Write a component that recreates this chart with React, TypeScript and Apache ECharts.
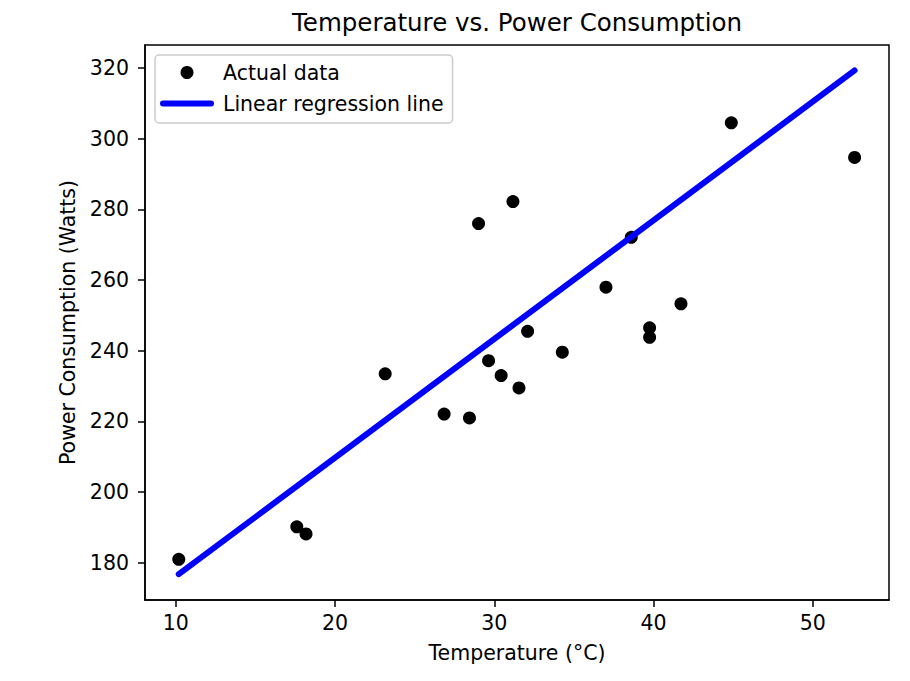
import React, { useEffect, useRef } from 'react';
import * as echarts from 'echarts';

// Scatter data (temperature °C, power W)
const temperatures = [
  10.19, 17.6, 18.18, 23.15, 26.85, 28.44, 29.01, 29.64, 30.43, 31.17,
  31.55, 32.09, 34.27, 37.01, 38.6, 39.75, 39.75, 41.72, 44.88, 52.62,
];
const powerValues = [
  181.0, 190.2, 188.2, 233.5, 222.1, 221.0, 276.0, 237.2, 233.0, 282.2,
  229.5, 245.5, 239.6, 258.0, 272.1, 246.5, 243.8, 253.3, 304.5, 294.7,
];

// Regression line end points
const regressionX = [10.19, 52.62];
const regressionY = [176.8, 319.3];

// Tick labels
const xTicks = [10, 20, 30, 40, 50];
const yTicks = [180, 200, 220, 240, 260, 280, 300, 320];

const FONT = 'DejaVu Sans';

export default function App() {
  const ref = useRef<HTMLDivElement>(null);

  useEffect(() => {
    const chart = echarts.init(ref.current as HTMLDivElement, null, { renderer: 'svg' });
    chart.setOption({
      animation: false,
      backgroundColor: '#ffffff',
      title: {
        text: 'Temperature vs. Power Consumption',
        left: 517,
        top: 10,
        padding: 0,
        textAlign: 'center',
        textStyle: { fontFamily: FONT, fontSize: 24.5, fontWeight: 'normal', color: '#000' },
      },
      grid: {
        left: 145,
        top: 45,
        width: 744,
        height: 555,
        show: true,
        borderColor: '#000',
        borderWidth: 1.5,
        backgroundColor: 'transparent',
      },
      legend: {
        orient: 'vertical',
        left: 155,
        top: 55,
        padding: [7, 9, 9, 5],
        itemWidth: 48,
        itemHeight: 13,
        itemGap: 10,
        borderColor: '#cccccc',
        borderWidth: 1.5,
        borderRadius: 4,
        backgroundColor: 'rgba(255,255,255,0.8)',
        textStyle: {
          fontFamily: FONT,
          fontSize: 20.5,
          color: '#000',
          lineHeight: 21,
          padding: [0, 0, 0, 7],
        },
        lineStyle: { width: 6 },
        data: [
          { name: 'Actual data', icon: 'circle' },
          { name: 'Linear regression line', itemStyle: { opacity: 0 } },
        ],
      },
      xAxis: {
        type: 'value',
        min: 8.07,
        max: 54.78,
        name: 'Temperature (°C)',
        nameLocation: 'middle',
        nameGap: 42,
        nameTextStyle: { fontFamily: FONT, fontSize: 20.5, color: '#000' },
        splitLine: { show: false },
        axisLine: { show: true, onZero: false, lineStyle: { color: '#000', width: 1.5 } },
        axisTick: { show: true, length: 7, lineStyle: { color: '#000', width: 1.5 }, customValues: xTicks },
        axisLabel: { fontFamily: FONT, fontSize: 20.5, color: '#000', margin: 12, customValues: xTicks },
      },
      yAxis: {
        type: 'value',
        min: 169.5,
        max: 326.5,
        name: 'Power Consumption (Watts)',
        nameLocation: 'middle',
        nameGap: 60,
        nameTextStyle: { fontFamily: FONT, fontSize: 20.5, color: '#000' },
        splitLine: { show: false },
        axisLine: { show: true, onZero: false, lineStyle: { color: '#000', width: 1.5 } },
        axisTick: { show: true, length: 7, lineStyle: { color: '#000', width: 1.5 }, customValues: yTicks },
        axisLabel: { fontFamily: FONT, fontSize: 20.5, color: '#000', margin: 16, customValues: yTicks },
      },
      series: [
        {
          name: 'Actual data',
          type: 'scatter',
          data: temperatures.map((t, i) => [t, powerValues[i]]),
          symbol: 'circle',
          symbolSize: 13,
          itemStyle: { color: '#000', opacity: 1 },
          z: 2,
        },
        {
          name: 'Linear regression line',
          type: 'line',
          data: regressionX.map((x, i) => [x, regressionY[i]]),
          showSymbol: false,
          symbol: 'none',
          lineStyle: { color: '#0000ff', width: 6, cap: 'round' },
          itemStyle: { color: '#0000ff' },
          z: 3,
        },
      ],
    });
    return () => chart.dispose();
  }, []);

  return (
    <div
      ref={ref}
      style={{ position: 'fixed', left: 0, top: 0, width: 910, height: 681 }}
    />
  );
}
